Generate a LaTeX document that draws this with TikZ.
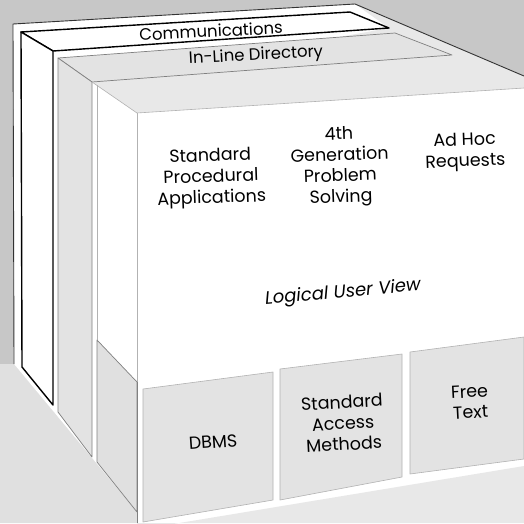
\documentclass[tikz,border=0pt]{standalone}
\usepackage{fontspec}
\setmainfont{Poppins}
\begin{document}
\begin{tikzpicture}[x=1pt,y=-1pt,line join=round,
  heavy/.style={draw=black,line width=1.4pt},
  outl/.style={draw=black!80,line width=0.9pt},
  speck/.style={draw=black!50,line width=0.7pt},
  faintl/.style={draw=black!30,line width=0.6pt},
  lbl/.style={font=\fontsize{17.5}{21}\selectfont,align=center,inner sep=0pt},
  small/.style={font=\fontsize{16.5}{18}\selectfont,inner sep=0pt},
]
\useasboundingbox (0,0) rectangle (524,523);
% background
\fill[black!22] (0,0) rectangle (524,523);
% lighter speckle lower left
\fill[black!12] (14,364) -- (137,512) -- (137,523) -- (0,523) -- (0,364) -- cycle;
% main white area
\fill[white] (13,24) -- (355,4) -- (524,76) -- (524,523) -- (137,523) -- (137,512) -- (14,364) -- cycle;
% top face of inner block
\fill[black!9] (92,82) -- (389,28) -- (355,4) -- (524,76) -- (524,88) -- (137,113) -- cycle;
% outer outline
\draw[outl] (14,364) -- (13,24) -- (355,4) -- (524,76);
% Communications frame
\filldraw[heavy,fill=white] (21,32) -- (350,12) -- (389,28) -- (53,51) -- cycle;
\filldraw[heavy,fill=white] (21,32) -- (53,51) -- (53,405) -- (22,367) -- cycle;
% In-Line Directory frame
\filldraw[speck,fill=black!11] (58,58) -- (395,33) -- (452,55) -- (92,82) -- cycle;
\filldraw[speck,fill=black!11] (58,58) -- (92,82) -- (92,457) -- (58,412) -- cycle;
% inner block edges
\draw[faintl] (92,82) -- (137,113) -- (524,88);
\draw[faintl] (97,85) -- (97,340);
\draw[faintl] (137,113) -- (137,382);
% lower left face
\filldraw[speck,fill=black!12] (97,340) -- (137,382) -- (137,512) -- (97,462) -- cycle;
\draw[speck] (137,382) -- (137,523);
% base below panels
\fill[black!9] (137,530) -- (524,466) -- (524,523) -- (137,523) -- cycle;
% storage panels
\filldraw[faintl,fill=black!11] (143,389) -- (273,372) -- (273,500) -- (143,522) -- cycle;
\filldraw[faintl,fill=black!11] (280,369) -- (402,354) -- (402,477) -- (280,500) -- cycle;
\filldraw[faintl,fill=black!11] (410,352) -- (524,337) -- (524,459) -- (410,474) -- cycle;
% labels
\node[small,rotate=3] (comm) at (211,31) {Communications};
\node[small,rotate=3] (dir) at (256,56) {In-Line Directory};
\node[lbl,rotate=2] (spa) at (211,178) {Standard\\Procedural\\Applications};
\node[lbl,rotate=2] (gen) at (340,167) {4th\\Generation\\Problem\\Solving};
\node[lbl,rotate=2] (adhoc) at (465,152) {Ad Hoc\\Requests};
\node[lbl,rotate=5,font=\fontsize{18}{20}\selectfont\itshape] (luv) at (343,293) {Logical User View};
\node[lbl,rotate=4] (dbms) at (213,442) {DBMS};
\node[lbl,rotate=3] (sam) at (343,423) {Standard\\Access\\Methods};
\node[lbl,rotate=3] (ft) at (470,402) {Free\\Text};
\end{tikzpicture}
\end{document}
